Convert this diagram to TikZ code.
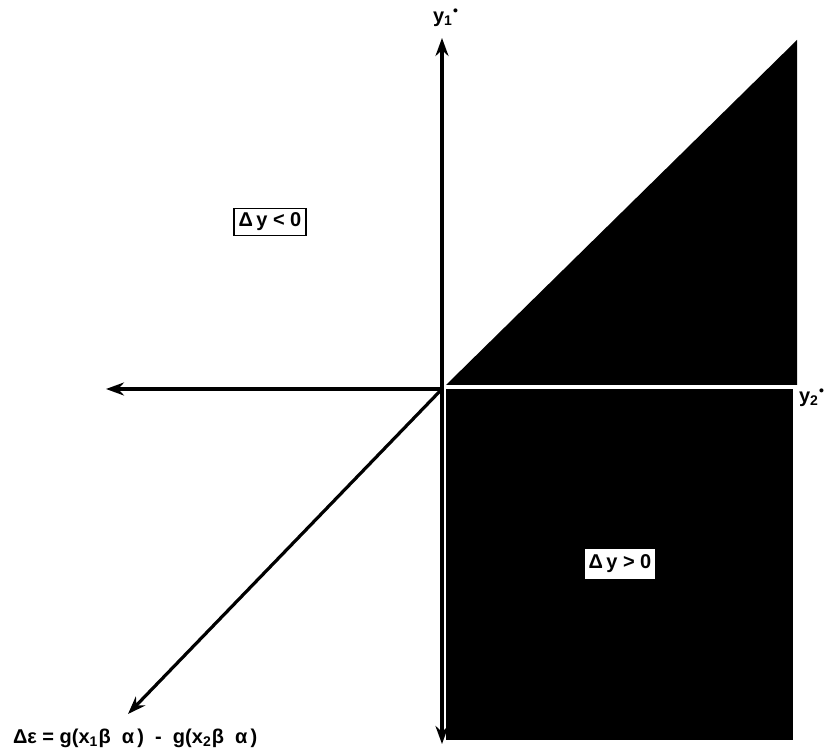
\documentclass[tikz,border=0pt]{standalone}
\usepackage{amsmath, amssymb}
\usepackage{fontspec}
\setmainfont{Liberation Sans}
\usepackage{tikz}
\usetikzlibrary{calc, positioning, arrows.meta}

\begin{document}
\begin{tikzpicture}[x=0.5pt, y=-0.5pt,
    axis/.style={line width=1.6pt, -{Stealth[length=9pt, width=6.5pt]}},
    region/.style={fill=black, draw=none},
    signbox/.style={draw, line width=0.9pt, fill=white, inner sep=2.2pt,
                    font=\bfseries},
    axislabel/.style={font=\bfseries},
]
    \useasboundingbox (0,0) rectangle (827,754);

    % Shaded regions
    \fill[region] (446,385) -- (797,40) -- (797,385) -- cycle;
    \fill[region] (446,389) rectangle (793,740);

    % Axes
    \coordinate (O)  at (442,389);
    \coordinate (up) at (442,38);
    \coordinate (dn) at (442,744);
    \coordinate (lf) at (106,389);
    \coordinate (dg) at (128,714);
    \draw[axis] (O) -- (up);
    \draw[axis] (O) -- (dn);
    \draw[axis] (O) -- (lf);
    \draw[axis] (O) -- (dg);

    % Axis labels
    \node[axislabel] (y1) at (446,18)  {y$_{\text{1}}{}^{\text{•}}$};
    \node[axislabel] (y2) at (812,398) {y$_{\text{2}}{}^{\text{•}}$};
    \node[axislabel, anchor=west] (de) at (6,738)
        {Δε = g(x\textsubscript{1}β\ \ α\,)\ \ -\ \ g(x\textsubscript{2}β\ \ α\,)};

    % Sign boxes
    \node[signbox] (neg) at (270,222) {Δ\,y < 0};
    \node[signbox, minimum height=16pt] (pos) at (620,564) {Δ\,y > 0};
\end{tikzpicture}
\end{document}
